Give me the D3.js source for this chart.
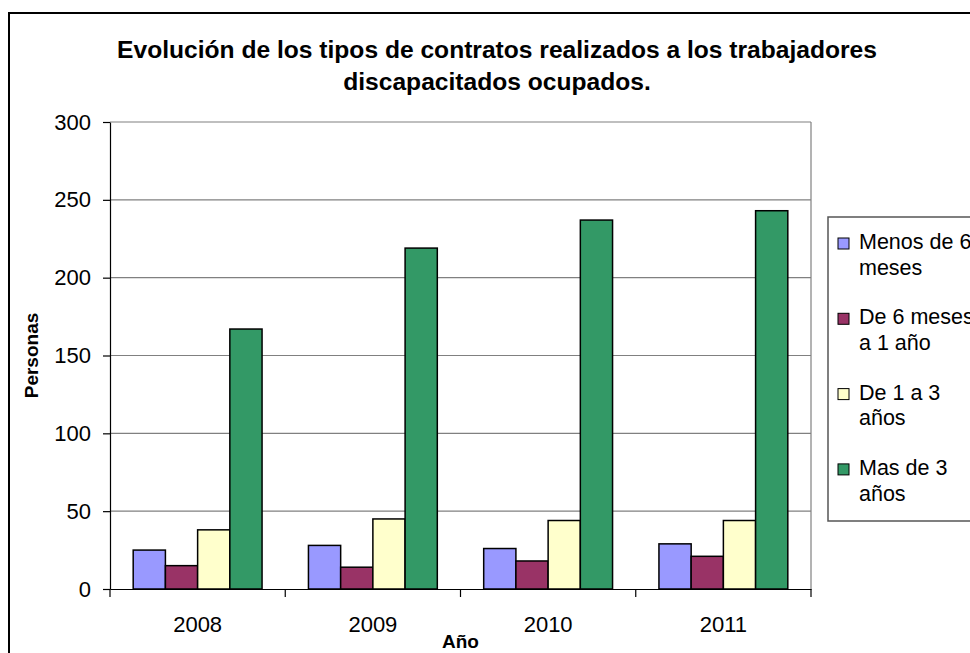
<!DOCTYPE html>
<html>
<head>
<meta charset="utf-8">
<script src="https://cdnjs.cloudflare.com/ajax/libs/d3/7.8.5/d3.min.js"></script>
<style>
  html, body { margin: 0; padding: 0; background: #fff; overflow: hidden; }
  svg { display: block; font-family: Arial, "Liberation Sans", sans-serif; }
</style>
</head>
<body>
<div id="chart"></div>
<script>
const years = ["2008", "2009", "2010", "2011"];
const seriesNames = ["Menos de 6 meses", "De 6 meses a 1 año", "De 1 a 3 años", "Mas de 3 años"];
const legendLines = [["Menos de 6", "meses"], ["De 6 meses", "a 1 año"], ["De 1 a 3", "años"], ["Mas de 3", "años"]];
const seriesColors = ["#9999FF", "#993366", "#FFFFCC", "#339966"];
const menos6 = [25, 28, 26, 29];
const de6a1 = [15, 14, 18, 21];
const de1a3 = [38, 45, 44, 44];
const mas3 = [167, 219, 237, 243];
const yTicks = [0, 50, 100, 150, 200, 250, 300];
const titleLines = ["Evolución de los tipos de contratos realizados a los trabajadores", "discapacitados ocupados."];

const seriesValues = [menos6, de6a1, de1a3, mas3];

const width = 970, height = 653;
const plot = { left: 110, right: 811, top: 122, bottom: 589 };

const svg = d3.select("#chart").append("svg")
  .attr("width", width)
  .attr("height", height);

// outer chart border (runs off the right and bottom edges)
svg.append("rect")
  .attr("x", 9).attr("y", 13)
  .attr("width", 1100).attr("height", 800)
  .attr("fill", "#fff")
  .attr("stroke", "#000")
  .attr("stroke-width", 2);

// title
svg.append("text")
  .attr("x", 497)
  .attr("text-anchor", "middle")
  .attr("font-weight", "bold")
  .attr("font-size", "24.6px")
  .selectAll("tspan")
  .data(titleLines)
  .join("tspan")
  .attr("x", 497)
  .attr("y", (d, i) => 58 + i * 32)
  .text(d => d);

const x = d3.scaleBand()
  .domain(years)
  .range([plot.left, plot.right])
  .padding(0);

const xs = d3.scaleBand()
  .domain(seriesNames)
  .range([0, x.bandwidth()])
  .paddingInner(0)
  .paddingOuter(0.72);

const y = d3.scaleLinear()
  .domain([0, 300])
  .range([plot.bottom, plot.top]);

// gridlines
svg.append("g")
  .selectAll("line")
  .data(yTicks.filter(d => d > 0))
  .join("line")
  .attr("x1", plot.left).attr("x2", plot.right)
  .attr("y1", d => y(d)).attr("y2", d => y(d))
  .attr("stroke", "#808080")
  .attr("stroke-width", 1.2);

// plot area right border
svg.append("line")
  .attr("x1", plot.right).attr("x2", plot.right)
  .attr("y1", plot.top).attr("y2", plot.bottom)
  .attr("stroke", "#808080")
  .attr("stroke-width", 1.2);

// bars
const groups = svg.append("g")
  .selectAll("g")
  .data(seriesNames)
  .join("g")
  .attr("fill", (d, i) => seriesColors[i]);

groups.selectAll("rect")
  .data((s, si) => years.map((yr, i) => ({ year: yr, series: s, value: seriesValues[si][i] })))
  .join("rect")
  .attr("x", d => x(d.year) + xs(d.series))
  .attr("y", d => y(d.value))
  .attr("width", xs.bandwidth())
  .attr("height", d => y(0) - y(d.value))
  .attr("stroke", "#000")
  .attr("stroke-width", 1.5);

// y axis
const yAxis = svg.append("g")
  .attr("transform", `translate(${plot.left},0)`)
  .call(d3.axisLeft(y).tickValues(yTicks).tickSize(7).tickSizeOuter(0).tickPadding(12));
yAxis.select(".domain").attr("stroke", "#000").attr("stroke-width", 1.2);
yAxis.selectAll(".tick line").attr("stroke", "#000").attr("stroke-width", 1.2);
yAxis.selectAll(".tick text")
  .attr("font-size", "22px")
  .attr("font-family", "Arial, 'Liberation Sans', sans-serif")
  .attr("fill", "#000");

// x axis
const xAxis = svg.append("g")
  .attr("transform", `translate(0,${plot.bottom})`)
  .call(d3.axisBottom(x).tickSize(0).tickSizeOuter(0).tickPadding(27));
xAxis.select(".domain").attr("stroke", "#000").attr("stroke-width", 1.2);
xAxis.selectAll(".tick text")
  .attr("font-size", "22px")
  .attr("font-family", "Arial, 'Liberation Sans', sans-serif")
  .attr("fill", "#000");

// category boundary ticks
xAxis.append("g")
  .selectAll("line")
  .data(years.map(d => x(d)).concat([plot.right]))
  .join("line")
  .attr("x1", d => d).attr("x2", d => d)
  .attr("y1", 0).attr("y2", 8)
  .attr("stroke", "#000")
  .attr("stroke-width", 1.2);

// axis titles
svg.append("text")
  .attr("x", (plot.left + plot.right) / 2)
  .attr("y", 648)
  .attr("text-anchor", "middle")
  .attr("font-weight", "bold")
  .attr("font-size", "19px")
  .text("Año");

svg.append("text")
  .attr("transform", `translate(38,${(plot.top + plot.bottom) / 2}) rotate(-90)`)
  .attr("text-anchor", "middle")
  .attr("font-weight", "bold")
  .attr("font-size", "19px")
  .text("Personas");

// legend
const legend = svg.append("g");
legend.append("rect")
  .attr("x", 828).attr("y", 217)
  .attr("width", 200).attr("height", 304)
  .attr("fill", "#fff")
  .attr("stroke", "#555")
  .attr("stroke-width", 1.5);

const items = legend.selectAll("g.item")
  .data(legendLines)
  .join("g")
  .attr("class", "item")
  .attr("transform", (d, i) => `translate(0,${249 + i * 75.3})`);

items.append("rect")
  .attr("x", 838).attr("y", -11)
  .attr("width", 11).attr("height", 11)
  .attr("fill", (d, i) => seriesColors[i])
  .attr("stroke", "#000")
  .attr("stroke-width", 1);

items.append("text")
  .attr("font-size", "21.5px")
  .attr("fill", "#000")
  .selectAll("tspan")
  .data(d => d)
  .join("tspan")
  .attr("x", 859)
  .attr("y", (d, i) => i * 25.7)
  .text(d => d);
</script>
</body>
</html>
